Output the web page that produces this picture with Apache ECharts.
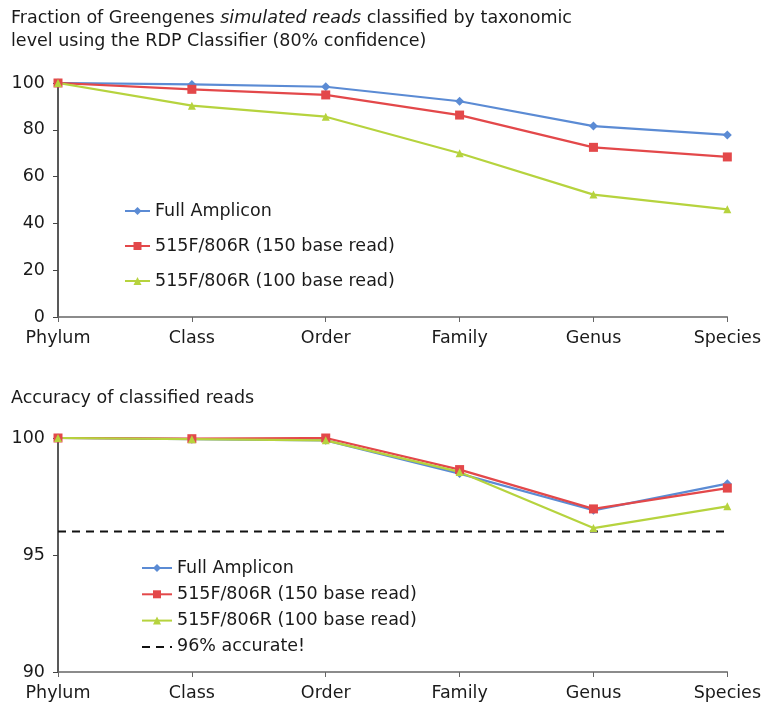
<!DOCTYPE html>
<html>
<head>
<meta charset="utf-8">
<script src="https://cdn.jsdelivr.net/npm/echarts@6/dist/echarts.min.js"></script>
<style>html,body{margin:0;padding:0;background:#fff}#c{width:764px;height:710px}</style>
</head>
<body>
<div id="c"></div>
<script>
const categories = ['Phylum', 'Class', 'Order', 'Family', 'Genus', 'Species'];
const seriesNames = ['Full Amplicon', '515F/806R (150 base read)', '515F/806R (100 base read)'];
const thresholdName = '96% accurate!';

// Top: fraction classified (%)
const fracFull = [100, 99.4, 98.4, 92.2, 81.6, 77.8];
const frac150  = [100, 97.3, 94.9, 86.3, 72.5, 68.4];
const frac100  = [100, 90.3, 85.6, 70.0, 52.3, 46.0];

// Bottom: accuracy of classified reads (%)
const accFull = [100, 99.95, 99.9, 98.48, 96.91, 98.05];
const acc150  = [100, 99.97, 100, 98.65, 96.97, 97.86];
const acc100  = [100, 99.95, 99.9, 98.55, 96.15, 97.08];
const accThreshold = [96, 96, 96, 96, 96, 96];

const topTicks = {min: 0, max: 100, interval: 20};
const bottomTicks = {min: 90, max: 100, interval: 5};

const colors = ['#5b8bd4', '#e3484a', '#b6d33e'];
const symbols = ['diamond', 'rect', 'triangle'];
const symbolSizes = [9, 9, 8];
const FONT = '"DejaVu Sans", Verdana, sans-serif';
const FS = 17.5;

function xAxis(gi) {
  return {
    type: 'category', gridIndex: gi, data: categories, boundaryGap: false,
    axisLine: {lineStyle: {color: '#666', width: 1.5}},
    axisTick: {show: true, length: 5, lineStyle: {color: '#666'}},
    axisLabel: {color: '#1a1a1a', fontSize: FS, fontFamily: FONT, margin: 12}
  };
}
function yAxis(gi, t) {
  return {
    type: 'value', gridIndex: gi, min: t.min, max: t.max, interval: t.interval,
    splitLine: {show: false},
    axisLine: {show: true, lineStyle: {color: '#222', width: 1.5}},
    axisTick: {show: true, length: 5, lineStyle: {color: '#444'}},
    axisLabel: {color: '#1a1a1a', fontSize: FS, fontFamily: FONT, margin: 13}
  };
}
function lineSeries(name, data, i, gi) {
  return {
    name: name, type: 'line', xAxisIndex: gi, yAxisIndex: gi, data: data,
    symbol: symbols[i], symbolSize: symbolSizes[i],
    lineStyle: {color: colors[i], width: 2.2},
    itemStyle: {color: colors[i]},
    emphasis: {disabled: true}, animation: false
  };
}
const legendText = {fontFamily: FONT, fontSize: FS, color: '#1a1a1a', lineHeight: 20};

const option = {
  animation: false,
  title: [
    {
      left: 6, top: 2,
      text: 'Fraction of Greengenes {i|simulated reads} classified by taxonomic\nlevel using the RDP Classifier (80% confidence)',
      textStyle: {
        fontFamily: FONT, fontSize: FS, fontWeight: 'normal', color: '#1a1a1a', lineHeight: 23,
        rich: {i: {fontStyle: 'italic', fontFamily: FONT, fontSize: FS, color: '#1a1a1a', lineHeight: 23}}
      }
    },
    {
      left: 6, top: 384,
      text: 'Accuracy of classified reads',
      textStyle: {fontFamily: FONT, fontSize: FS, fontWeight: 'normal', color: '#1a1a1a'}
    }
  ],
  grid: [
    {left: 58, right: 35, top: 83, height: 234},
    {left: 58, right: 35, top: 438, height: 234}
  ],
  xAxis: [xAxis(0), xAxis(1)],
  yAxis: [yAxis(0, topTicks), yAxis(1, bottomTicks)],
  legend: [
    {
      orient: 'vertical', left: 119, top: 196, itemGap: 15, itemWidth: 25, itemHeight: 10,
      data: seriesNames,
      textStyle: legendText,
      selectedMode: false
    },
    {
      orient: 'vertical', left: 136, top: 553, itemGap: 6.3, itemWidth: 30, itemHeight: 10,
      data: seriesNames.concat([{name: thresholdName, itemStyle: {opacity: 0}}]),
      textStyle: legendText,
      selectedMode: false
    }
  ],
  series: [
    lineSeries(seriesNames[0], fracFull, 0, 0),
    lineSeries(seriesNames[1], frac150, 1, 0),
    lineSeries(seriesNames[2], frac100, 2, 0),
    {
      name: thresholdName, type: 'line', xAxisIndex: 1, yAxisIndex: 1, data: accThreshold,
      symbol: 'none', lineStyle: {color: '#111', width: 2, type: [8, 6]},
      itemStyle: {color: '#111'}, emphasis: {disabled: true}, z: 1
    },
    lineSeries(seriesNames[0], accFull, 0, 1),
    lineSeries(seriesNames[1], acc150, 1, 1),
    lineSeries(seriesNames[2], acc100, 2, 1)
  ]
};
const chart = echarts.init(document.getElementById('c'), null, {renderer: 'canvas'});
chart.setOption(option);
</script>
</body>
</html>
